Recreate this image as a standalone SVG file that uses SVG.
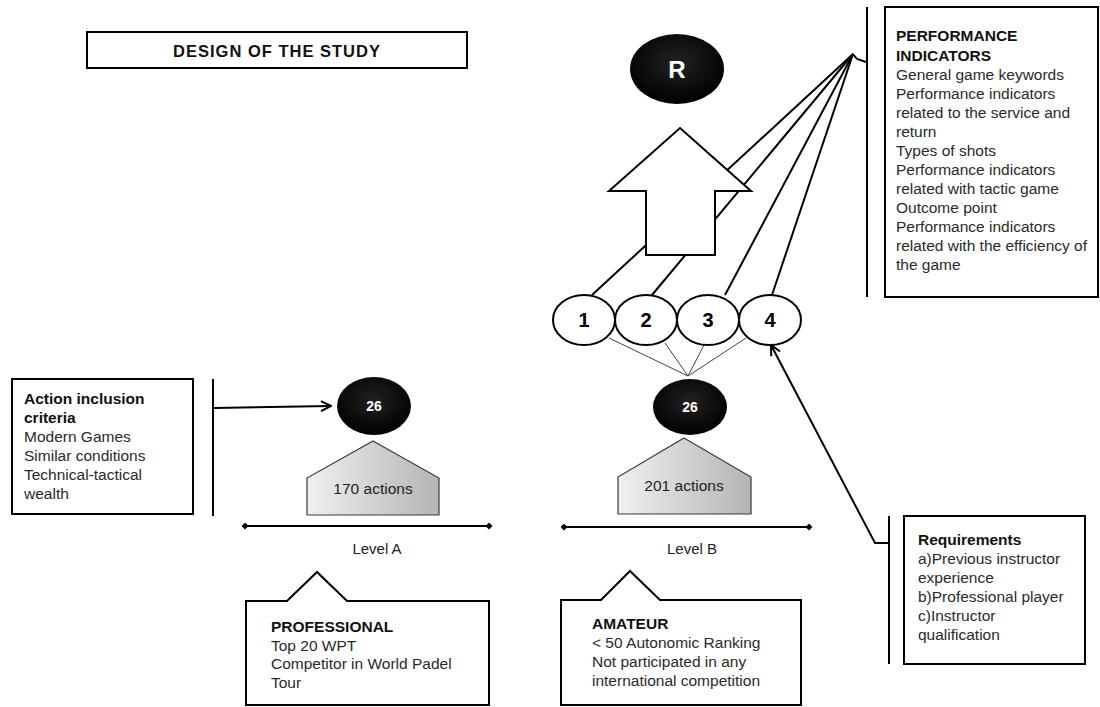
<svg xmlns="http://www.w3.org/2000/svg" width="1100" height="707" viewBox="0 0 1100 707">
<style>
text{font-family:"Liberation Sans",Arial,sans-serif;}
.box{fill:#fff;stroke:#000;stroke-width:2;}
.ln{fill:none;stroke:#000;stroke-width:2;}
.thin{fill:none;stroke:#444;stroke-width:1;}
.h{font-weight:bold;font-size:15.5px;fill:#111;}
.b{font-size:15.5px;fill:#2a2a2a;}
.num{font-weight:bold;font-size:20px;fill:#000;text-anchor:middle;}
.wn{font-weight:bold;fill:#fff;text-anchor:middle;}
.act{font-size:15.5px;fill:#222;text-anchor:middle;}
.lvl{font-size:15px;fill:#222;text-anchor:middle;}
.pent{fill:url(#pg);stroke:#3a3a3a;stroke-width:1.2;}
.blk{fill:url(#bg);}
</style>
<defs>
<linearGradient id="pg" x1="0" y1="0" x2="1" y2="0">
<stop offset="0" stop-color="#f0f0f0"/>
<stop offset="1" stop-color="#b4b4b4"/>
</linearGradient>
<radialGradient id="bg" cx="0.5" cy="0.4" r="0.6">
<stop offset="0" stop-color="#222"/>
<stop offset="1" stop-color="#000"/>
</radialGradient>
<marker id="ah" viewBox="0 0 12 12" refX="11" refY="6" markerWidth="12" markerHeight="12" markerUnits="userSpaceOnUse" orient="auto">
<path d="M1,1 L11,6 L1,11" fill="none" stroke="#000" stroke-width="2"/>
</marker>
<marker id="dot" viewBox="0 0 8 8" refX="4" refY="4" markerWidth="7" markerHeight="7" markerUnits="userSpaceOnUse">
<path d="M4,0 L8,4 L4,8 L0,4 Z" fill="#000"/>
</marker>
</defs>
<rect width="1100" height="707" fill="#fff"/>

<g id="connectors">
<path class="ln" d="M866,62 L857,59 L853,54"/>
<line class="ln" x1="853" y1="54" x2="592" y2="295"/>
<line class="ln" x1="853" y1="54" x2="652" y2="295"/>
<line class="ln" x1="853" y1="54" x2="725" y2="295"/>
<line class="ln" x1="853" y1="54" x2="772" y2="295"/>
<line class="thin" x1="609" y1="338" x2="688" y2="376"/>
<line class="thin" x1="665" y1="343" x2="688" y2="376"/>
<line class="thin" x1="704" y1="345" x2="688" y2="376"/>
<line class="thin" x1="746" y1="338" x2="688" y2="376"/>
<line class="ln" x1="214" y1="408" x2="331" y2="406" marker-end="url(#ah)"/>
<path class="ln" d="M889,543 L875,543 L771,345" marker-end="url(#ah)"/>
<line class="ln" x1="867" y1="7" x2="867" y2="297"/>
<line class="ln" x1="213" y1="379" x2="213" y2="516"/>
<line class="ln" x1="889" y1="516" x2="889" y2="664"/>
</g>

<g id="title">
<rect class="box" x="87" y="32" width="380" height="36"/>
<text x="277" y="57" text-anchor="middle" font-weight="bold" font-size="16.5" letter-spacing="1" fill="#111">DESIGN OF THE STUDY</text>
</g>

<g id="node-R">
<ellipse class="blk" cx="677" cy="69" rx="47" ry="35"/>
<text class="wn" x="677" y="78" font-size="24">R</text>
</g>

<g id="big-arrow">
<polygon points="680,128 751,191 715,191 715,255 646,255 646,191 609,191" fill="#fff" stroke="#000" stroke-width="2"/>
</g>

<g id="performance-indicators">
<rect class="box" x="885" y="7" width="213" height="290"/>
<text x="896" y="41"><tspan class="h">PERFORMANCE</tspan><tspan class="h" x="896" dy="20">INDICATORS</tspan><tspan class="b" x="896" dy="19">General game keywords</tspan><tspan class="b" x="896" dy="19">Performance indicators</tspan><tspan class="b" x="896" dy="19">related to the service and</tspan><tspan class="b" x="896" dy="19">return</tspan><tspan class="b" x="896" dy="19">Types of shots</tspan><tspan class="b" x="896" dy="19">Performance indicators</tspan><tspan class="b" x="896" dy="19">related with tactic game</tspan><tspan class="b" x="896" dy="19">Outcome point</tspan><tspan class="b" x="896" dy="19">Performance indicators</tspan><tspan class="b" x="896" dy="19">related with the efficiency of</tspan><tspan class="b" x="896" dy="19">the game</tspan></text>
</g>

<g id="c1"><ellipse class="box" cx="584" cy="320" rx="31" ry="25"/><text class="num" x="584" y="327">1</text></g>
<g id="c2"><ellipse class="box" cx="646" cy="320" rx="31" ry="25"/><text class="num" x="646" y="327">2</text></g>
<g id="c3"><ellipse class="box" cx="708" cy="320" rx="31" ry="25"/><text class="num" x="708" y="327">3</text></g>
<g id="c4"><ellipse class="box" cx="770" cy="320" rx="31" ry="25"/><text class="num" x="770" y="327">4</text></g>

<g id="node-26-A">
<ellipse class="blk" cx="374" cy="406" rx="37" ry="29"/>
<text class="wn" x="374" y="411" font-size="14">26</text>
</g>
<g id="node-26-B">
<ellipse class="blk" cx="690" cy="407" rx="37" ry="28"/>
<text class="wn" x="690" y="412" font-size="14">26</text>
</g>

<g id="actions-A">
<polygon class="pent" points="373,441 439,478 439,515 307,515 307,478"/>
<text class="act" x="373" y="494">170 actions</text>
</g>
<g id="actions-B">
<polygon class="pent" points="684,438 751,477 751,514 618,514 618,477"/>
<text class="act" x="684" y="491">201 actions</text>
</g>

<g id="level-A">
<line x1="245" y1="526" x2="489" y2="526" stroke="#000" stroke-width="2" marker-start="url(#dot)" marker-end="url(#dot)"/>
<text class="lvl" x="377" y="554">Level A</text>
</g>
<g id="level-B">
<line x1="564" y1="527" x2="809" y2="527" stroke="#000" stroke-width="2" marker-start="url(#dot)" marker-end="url(#dot)"/>
<text class="lvl" x="692" y="554">Level B</text>
</g>

<g id="action-inclusion">
<rect class="box" x="12" y="379" width="181" height="135"/>
<text x="24" y="404"><tspan class="h">Action inclusion</tspan><tspan class="h" x="24" dy="19">criteria</tspan><tspan class="b" x="24" dy="19">Modern Games</tspan><tspan class="b" x="24" dy="19">Similar conditions</tspan><tspan class="b" x="24" dy="19">Technical-tactical</tspan><tspan class="b" x="24" dy="19">wealth</tspan></text>
</g>

<g id="professional">
<path class="box" d="M246,601 L287,601 L317,572 L347,601 L489,601 L489,705 L246,705 Z"/>
<text x="271" y="632"><tspan class="h">PROFESSIONAL</tspan><tspan class="b" x="271" dy="18.5">Top 20 WPT</tspan><tspan class="b" x="271" dy="18.5">Competitor in World Padel</tspan><tspan class="b" x="271" dy="18.5">Tour</tspan></text>
</g>

<g id="amateur">
<path class="box" d="M561,600 L601,600 L630,571 L660,600 L801,600 L801,705 L561,705 Z"/>
<text x="592" y="629"><tspan class="h">AMATEUR</tspan><tspan class="b" x="592" dy="19">&lt; 50 Autonomic Ranking</tspan><tspan class="b" x="592" dy="19">Not participated in any</tspan><tspan class="b" x="592" dy="19">international competition</tspan></text>
</g>

<g id="requirements">
<rect class="box" x="904" y="516" width="181" height="148"/>
<text x="918" y="545"><tspan class="h">Requirements</tspan><tspan class="b" x="918" dy="19">a)Previous instructor</tspan><tspan class="b" x="918" dy="19">experience</tspan><tspan class="b" x="918" dy="19">b)Professional player</tspan><tspan class="b" x="918" dy="19">c)Instructor</tspan><tspan class="b" x="918" dy="19">qualification</tspan></text>
</g>
</svg>
